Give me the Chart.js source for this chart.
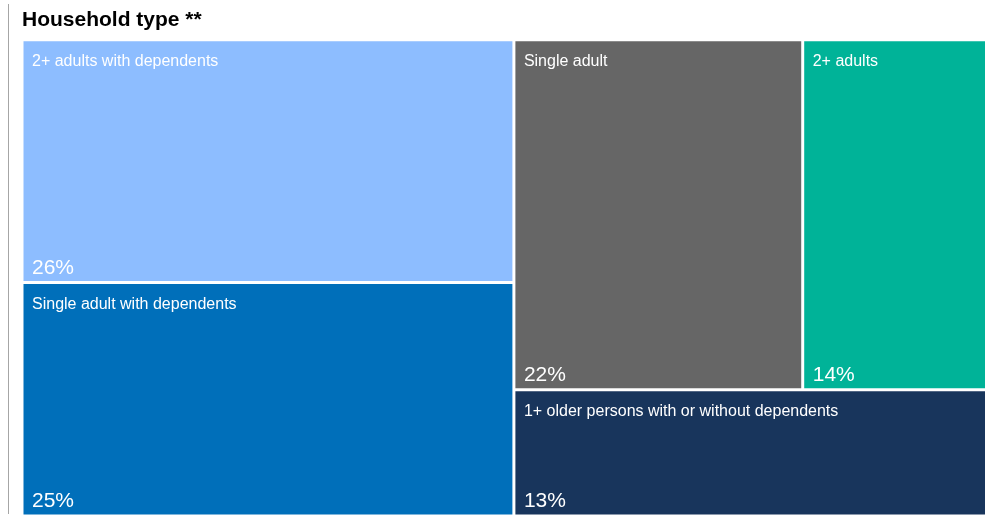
<!DOCTYPE html>
<html>
<head>
<meta charset="utf-8">
<title>Household type</title>
<script src="https://cdn.jsdelivr.net/npm/chart.js@4/dist/chart.umd.min.js"></script>
<style>
  html, body { margin: 0; padding: 0; background: #fff; }
  #wrap { position: relative; width: 987px; height: 523px; }
  #rule { position: absolute; left: 8px; top: 4px; width: 1px; height: 510px; background: #a6a6a6; }
  canvas { display: block; }
</style>
</head>
<body>
<div id="wrap">
  <div id="rule"></div>
  <canvas id="chart" width="987" height="523"></canvas>
</div>
<script>
// Household types and their share (%) of households
const categories = [
  '2+ adults with dependents',
  'Single adult with dependents',
  'Single adult',
  '2+ adults',
  '1+ older persons with or without dependents'
];
const shares = [26, 25, 22, 14, 13];
const cellColors = ['#8dbdff', '#006fba', '#666666', '#00b398', '#18355c'];

// Squarified treemap (golden-ratio target aspect), returns one rect per value
function squarify(values, x0, y0, x1, y1) {
  const ratio = (1 + Math.sqrt(5)) / 2;
  const out = [];
  const n = values.length;
  let value = values.reduce((a, b) => a + b, 0);
  let i0 = 0, i1 = 0;
  while (i0 < n) {
    const dx = x1 - x0, dy = y1 - y0;
    let sumValue = values[i1 = i0];
    let minValue = sumValue, maxValue = sumValue;
    const alpha = Math.max(dy / dx, dx / dy) / (value * ratio);
    let beta = sumValue * sumValue * alpha;
    let minRatio = Math.max(maxValue / beta, beta / minValue);
    for (++i1; i1 < n; ++i1) {
      const nv = values[i1];
      sumValue += nv;
      if (nv < minValue) minValue = nv;
      if (nv > maxValue) maxValue = nv;
      beta = sumValue * sumValue * alpha;
      const newRatio = Math.max(maxValue / beta, beta / minValue);
      if (newRatio > minRatio) { sumValue -= nv; break; }
      minRatio = newRatio;
    }
    if (dx < dy) {
      const h = dy * sumValue / value;
      let x = x0;
      for (let k = i0; k < i1; k++) {
        const w = dx * values[k] / sumValue;
        out[k] = { x0: x, x1: x + w, y0: y0, y1: y0 + h };
        x += w;
      }
      y0 += h;
    } else {
      const w = dx * sumValue / value;
      let y = y0;
      for (let k = i0; k < i1; k++) {
        const h = dy * values[k] / sumValue;
        out[k] = { x0: x0, x1: x0 + w, y0: y, y1: y + h };
        y += h;
      }
      x0 += w;
    }
    value -= sumValue;
    i0 = i1;
  }
  return out;
}

const NO_SKIP = { top: false, right: false, bottom: false, left: false };

// Dataset controller that lays the values out as treemap cells (bar elements)
class TreemapCellsController extends Chart.DatasetController {
  update(mode) {
    const meta = this._cachedMeta;
    this.updateElements(meta.data, 0, meta.data.length, mode);
  }
  updateElements(rects, start, count, mode) {
    const meta = this._cachedMeta;
    const xs = meta.xScale, ys = meta.yScale;
    const values = this.getDataset().data.map(Number);
    const W = Math.abs(xs.right - xs.left);
    const H = Math.abs(ys.bottom - ys.top);
    const cells = squarify(values, 0, 0, W, H);
    for (let i = start; i < start + count; i++) {
      const c = cells[i];
      const left = xs.getPixelForValue(c.x0 / W * 100);
      const right = xs.getPixelForValue(c.x1 / W * 100);
      const top = ys.getPixelForValue(c.y0 / H * 100);
      const bottom = ys.getPixelForValue(c.y1 / H * 100);
      this.updateElement(rects[i], i, {
        x: (left + right) / 2,
        y: top,
        base: bottom,
        width: right - left,
        height: bottom - top,
        horizontal: false,
        borderSkipped: NO_SKIP,
        enableBorderRadius: false,
        inflateAmount: 0,
        options: this.resolveDataElementOptions(i, mode)
      }, mode);
    }
  }
}
TreemapCellsController.id = 'treemapcells';
TreemapCellsController.defaults = { dataElementType: 'bar', datasetElementType: false };
TreemapCellsController.overrides = { scales: { x: { type: 'linear' }, y: { type: 'linear' } } };
Chart.register(TreemapCellsController);

const FONT = '"Liberation Sans", Arial, Helvetica, sans-serif';

// Category name at the top-left of each cell, share at the bottom-left
const cellLabels = {
  id: 'cellLabels',
  afterDatasetsDraw(chart) {
    const ctx = chart.ctx;
    const meta = chart.getDatasetMeta(0);
    const data = chart.data.datasets[0].data;
    meta.data.forEach((el, i) => {
      const p = el.getProps(['x', 'y', 'base', 'width'], true);
      const left = p.x - p.width / 2;
      ctx.save();
      ctx.fillStyle = '#ffffff';
      ctx.textAlign = 'left';
      ctx.textBaseline = 'alphabetic';
      ctx.font = '16px ' + FONT;
      ctx.fillText(chart.data.labels[i], left + 10, p.y + 26);
      ctx.font = '21px ' + FONT;
      ctx.fillText(data[i] + '%', left + 10, p.base - 9);
      ctx.restore();
    });
  }
};

new Chart(document.getElementById('chart'), {
  type: 'treemapcells',
  data: {
    labels: categories,
    datasets: [{
      data: shares,
      backgroundColor: cellColors,
      borderColor: '#ffffff',
      borderWidth: 1.5,
      borderRadius: 0,
      borderSkipped: false,
      inflateAmount: 0
    }]
  },
  options: {
    responsive: false,
    animation: false,
    events: [],
    layout: { padding: { left: 22, right: 0.5, top: 0, bottom: 7 } },
    scales: {
      x: { type: 'linear', min: 0, max: 100, display: false },
      y: { type: 'linear', min: 0, max: 100, reverse: true, display: false }
    },
    plugins: {
      legend: { display: false },
      tooltip: { enabled: false },
      title: {
        display: true,
        text: 'Household type **',
        align: 'start',
        color: '#000000',
        font: { family: FONT, size: 21, weight: 'bold', lineHeight: 1.2 },
        padding: { top: 8, bottom: 6.5 }
      }
    }
  },
  plugins: [cellLabels]
});
</script>
</body>
</html>
